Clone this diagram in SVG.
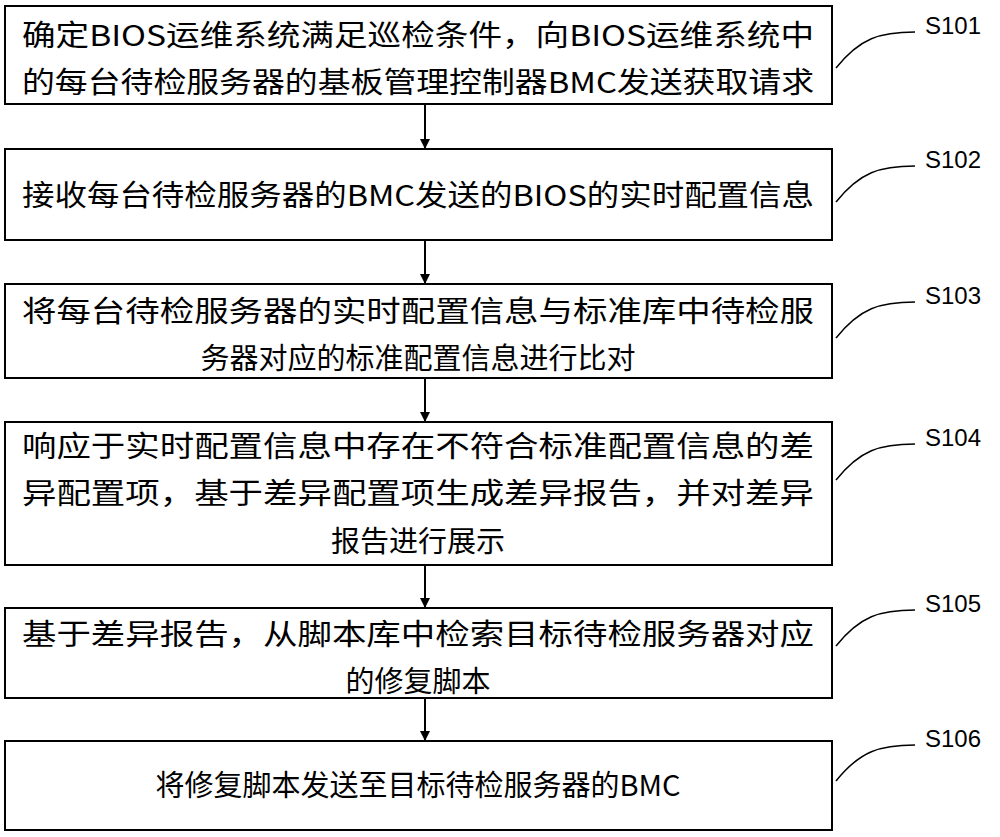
<svg xmlns="http://www.w3.org/2000/svg" width="1000" height="837" viewBox="0 0 1000 837">
<style>
.b{fill:#fff;stroke:#000;stroke-width:2}
.t{font-family:"Noto Sans CJK SC","Liberation Serif",serif;font-size:29px;fill:#000;text-anchor:middle}
.l{font-family:"Liberation Sans",sans-serif;font-size:24px;fill:#000}
.c{fill:none;stroke:#000;stroke-width:1.5}
.a{stroke:#000;stroke-width:2;marker-end:url(#m)}
</style>
<defs><marker id="m" markerWidth="10" markerHeight="10" refX="9" refY="5" orient="auto" markerUnits="userSpaceOnUse"><path d="M0,0 L10,5 L0,10 z"/></marker></defs>
<rect width="1000" height="837" fill="#fff"/>
<g id="n1"><rect class="b" x="5" y="6" width="827" height="98"/><text class="t" x="418" y="46" textLength="792" lengthAdjust="spacingAndGlyphs">确定BIOS运维系统满足巡检条件，向BIOS运维系统中</text><text class="t" x="418" y="93" textLength="792" lengthAdjust="spacingAndGlyphs">的每台待检服务器的基板管理控制器BMC发送获取请求</text><path class="c" d="M836,68 C860,38 880,32 915,32"/><text class="l" x="925" y="34">S101</text></g>
<g id="n2"><rect class="b" x="5" y="149" width="827" height="91"/><text class="t" x="418" y="206" textLength="792" lengthAdjust="spacingAndGlyphs">接收每台待检服务器的BMC发送的BIOS的实时配置信息</text><path class="c" d="M836,202 C860,172 880,166 915,166"/><text class="l" x="925" y="168">S102</text></g>
<g id="n3"><rect class="b" x="5" y="284" width="827" height="94"/><text class="t" x="418" y="322" textLength="792" lengthAdjust="spacingAndGlyphs">将每台待检服务器的实时配置信息与标准库中待检服</text><text class="t" x="418" y="369">务器对应的标准配置信息进行比对</text><path class="c" d="M836,338 C860,308 880,302 915,302"/><text class="l" x="925" y="304">S103</text></g>
<g id="n4"><rect class="b" x="5" y="422" width="827" height="143"/><text class="t" x="418" y="457" textLength="792" lengthAdjust="spacingAndGlyphs">响应于实时配置信息中存在不符合标准配置信息的差</text><text class="t" x="418" y="504" textLength="792" lengthAdjust="spacingAndGlyphs">异配置项，基于差异配置项生成差异报告，并对差异</text><text class="t" x="418" y="552">报告进行展示</text><path class="c" d="M836,480 C860,450 880,444 915,444"/><text class="l" x="925" y="446">S104</text></g>
<g id="n5"><rect class="b" x="5" y="608" width="827" height="90"/><text class="t" x="418" y="645" textLength="792" lengthAdjust="spacingAndGlyphs">基于差异报告，从脚本库中检索目标待检服务器对应</text><text class="t" x="418" y="692">的修复脚本</text><path class="c" d="M836,646 C860,616 880,610 915,610"/><text class="l" x="925" y="612">S105</text></g>
<g id="n6"><rect class="b" x="5" y="741" width="827" height="89"/><text class="t" x="418" y="796">将修复脚本发送至目标待检服务器的BMC</text><path class="c" d="M836,781 C860,751 880,745 915,745"/><text class="l" x="925" y="747">S106</text></g>
<g id="edges">
<line class="a" x1="425" y1="104" x2="425" y2="148"/>
<line class="a" x1="425" y1="240" x2="425" y2="283"/>
<line class="a" x1="425" y1="378" x2="425" y2="421"/>
<line class="a" x1="425" y1="565" x2="425" y2="607"/>
<line class="a" x1="425" y1="698" x2="425" y2="740"/>
</g>
</svg>
